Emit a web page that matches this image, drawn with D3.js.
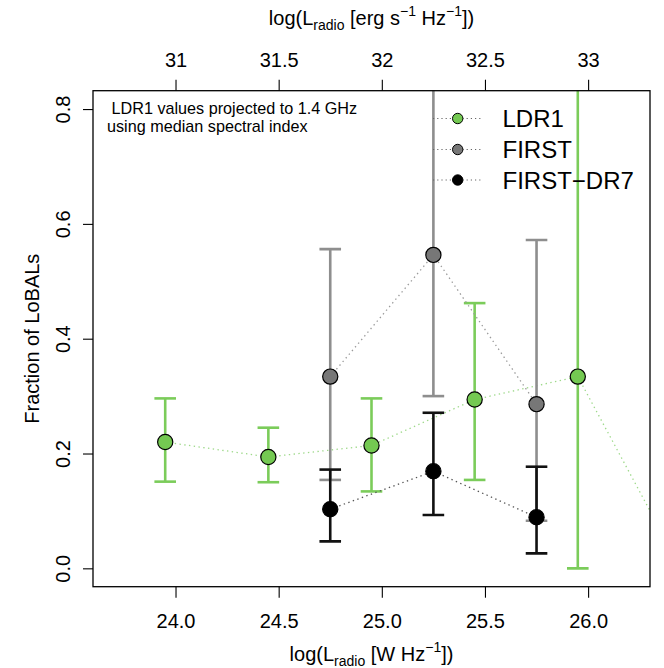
<!DOCTYPE html>
<html><head><meta charset="utf-8">
<script src="https://cdn.jsdelivr.net/npm/d3@7"></script>
<style>
html,body{margin:0;padding:0;background:#fff;}
svg{display:block;font-family:"Liberation Sans",Arial,Helvetica,sans-serif;}
</style></head>
<body>
<svg id="chart" width="664" height="668"></svg>
<script>
// ---- data ----
const ldrX  = [23.95, 24.45, 24.95, 25.45, 25.95, 26.45];
const ldrY  = [0.220, 0.194, 0.214, 0.294, 0.334, 0.000];
const ldrLo = [0.151, 0.150, 0.134, 0.154, 0.000, 0.000];
const ldrHi = [0.296, 0.245, 0.296, 0.462, 1.000, 0.000];

const firstX  = [24.75, 25.25, 25.75];
const firstY  = [0.334, 0.546, 0.286];
const firstLo = [0.154, 0.300, 0.083];
const firstHi = [0.556, 0.900, 0.572];

const dr7X  = [24.75, 25.25, 25.75];
const dr7Y  = [0.103, 0.169, 0.089];
const dr7Lo = [0.047, 0.093, 0.026];
const dr7Hi = [0.172, 0.271, 0.177];

const bottomTicks = [24.0, 24.5, 25.0, 25.5, 26.0];
const topTicks = [31, 31.5, 32, 32.5, 33];
const leftTicks = [0.0, 0.2, 0.4, 0.6, 0.8];
const seriesNames = ["LDR1", "FIRST", "FIRST\u2212DR7"];

// ---- layout ----
const L = 93, R = 650, T = 90.7, B = 586.7;
const svg = d3.select("#chart");
const x = d3.scaleLinear().domain([23.6, 26.3]).range([L, R]);
const xTop = d3.scaleLinear().domain([30.6, 33.3]).range([L, R]);
const y = d3.scaleLinear().domain([-0.032, 0.832]).range([B, T]);

const green = "#74C952", greenBar = "#7BCC5A", greenLine = "#9ED98A";
const gray = "#777777", grayBar = "#8E8E8E", grayLine = "#9A9A9A";
const black = "#000000", blackBar = "#111111", blackLine = "#555555";

const series = [
  {name: seriesNames[0], xs: ldrX, ys: ldrY, lo: ldrLo, hi: ldrHi, fill: green, bar: greenBar, line: greenLine},
  {name: seriesNames[1], xs: firstX, ys: firstY, lo: firstLo, hi: firstHi, fill: gray, bar: grayBar, line: grayLine},
  {name: seriesNames[2], xs: dr7X, ys: dr7Y, lo: dr7Lo, hi: dr7Hi, fill: black, bar: blackBar, line: blackLine}
];

svg.append("defs").append("clipPath").attr("id","plotclip")
  .append("rect").attr("x",L).attr("y",T).attr("width",R-L).attr("height",B-T);

const plot = svg.append("g").attr("clip-path","url(#plotclip)");
const capW = 10.8;

series.forEach(s => {
  const pts = s.xs.map((v,i)=>({x:v, y:s.ys[i], lo:s.lo[i], hi:s.hi[i]}));
  const g = plot.append("g");
  g.append("path").datum(pts)
    .attr("d", d3.line().x(d=>x(d.x)).y(d=>y(d.y)))
    .attr("fill","none").attr("stroke",s.line).attr("stroke-width",1.3)
    .attr("stroke-dasharray","1.4,3.4");
  const eb = g.selectAll(".eb").data(pts.filter(d=>d.hi>d.lo)).enter().append("g");
  eb.append("line").attr("x1",d=>x(d.x)).attr("x2",d=>x(d.x))
    .attr("y1",d=>y(d.lo)).attr("y2",d=>y(d.hi))
    .attr("stroke",s.bar).attr("stroke-width",2.6);
  eb.append("line").attr("x1",d=>x(d.x)-capW).attr("x2",d=>x(d.x)+capW)
    .attr("y1",d=>y(d.lo)).attr("y2",d=>y(d.lo))
    .attr("stroke",s.bar).attr("stroke-width",2.6);
  eb.append("line").attr("x1",d=>x(d.x)-capW).attr("x2",d=>x(d.x)+capW)
    .attr("y1",d=>y(d.hi)).attr("y2",d=>y(d.hi))
    .attr("stroke",s.bar).attr("stroke-width",2.6);
  g.selectAll("circle").data(pts).enter().append("circle")
    .attr("cx",d=>x(d.x)).attr("cy",d=>y(d.y)).attr("r",7.6)
    .attr("fill",s.fill).attr("stroke","#000").attr("stroke-width",1.2);
});

// ---- box ----
svg.append("rect").attr("x",L).attr("y",T).attr("width",R-L).attr("height",B-T)
  .attr("fill","none").attr("stroke","#000").attr("stroke-width",1.3);

// ---- axes ----
const fs = 20;
const axB = svg.append("g").attr("transform",`translate(0,${B})`)
  .call(d3.axisBottom(x).tickValues(bottomTicks).tickSize(11).tickPadding(5).tickFormat(d=>d.toFixed(1)));
const axT = svg.append("g").attr("transform",`translate(0,${T})`)
  .call(d3.axisTop(xTop).tickValues(topTicks).tickSize(11).tickPadding(12).tickFormat(d=>String(d)));
const axL = svg.append("g").attr("transform",`translate(${L},0)`)
  .call(d3.axisLeft(y).tickValues(leftTicks).tickSize(10).tickPadding(5).tickFormat(d=>d.toFixed(1)));
[axB, axT, axL].forEach(a=>{
  a.select(".domain").remove();
  a.selectAll(".tick line").attr("stroke","#000").attr("stroke-width",1.1);
  a.selectAll(".tick text").attr("font-size",fs).attr("fill","#000")
    .attr("font-family","Liberation Sans, Arial, sans-serif");
});
axB.selectAll(".tick text").attr("dy","0.71em").attr("y",27);
axT.selectAll(".tick text").attr("dy",0).attr("y",-24);
axL.selectAll(".tick text").attr("text-anchor","middle").attr("dy",0)
  .attr("x",0).attr("y",0)
  .attr("transform",function(d){return `translate(-23,0) rotate(-90)`;});

// axis titles with sub/superscripts
function title(g, parts){
  const t = g.append("text").attr("font-size",fs).attr("fill","#000").attr("text-anchor","middle");
  parts.forEach(p=>{
    const ts = t.append("tspan").text(p.t);
    if(p.sub){ ts.attr("font-size",fs*0.7).attr("dy",5); }
    else if(p.sup){ ts.attr("font-size",fs*0.7).attr("dy",-9); }
    if(p.back) ts.attr("dy",p.back);
  });
  return t;
}
title(svg.append("g").attr("transform",`translate(${(L+R)/2},661)`),
  [{t:"log(L"},{t:"radio",sub:true},{t:" [W Hz",back:-5},{t:"\u22121",sup:true},{t:"])",back:9}]);
title(svg.append("g").attr("transform",`translate(${(L+R)/2},24.5)`),
  [{t:"log(L"},{t:"radio",sub:true},{t:" [erg s",back:-5},{t:"\u22121",sup:true},{t:" Hz",back:9},{t:"\u22121",sup:true},{t:"])",back:9}]);
svg.append("text").attr("transform",`translate(39,${(T+B)/2}) rotate(-90)`)
  .attr("text-anchor","middle").attr("font-size",fs).attr("fill","#000")
  .text("Fraction of LoBALs");

// ---- annotation ----
const ann = svg.append("text").attr("font-size",16.2).attr("fill","#000");
ann.append("tspan").attr("x",107).attr("y",114).text("\u00a0LDR1 values projected to 1.4 GHz");
ann.append("tspan").attr("x",107).attr("y",131.5).text("using median spectral index");

// ---- legend ----
const lg = svg.append("g");
const legY = [118.5, 149.5, 180];
series.forEach((s,i)=>{
  lg.append("line").attr("x1",433).attr("x2",482).attr("y1",legY[i]).attr("y2",legY[i])
    .attr("stroke","#666").attr("stroke-width",1.1).attr("stroke-dasharray","1.2,3");
  lg.append("circle").attr("cx",457.7).attr("cy",legY[i]).attr("r",5.2)
    .attr("fill",s.fill).attr("stroke","#000").attr("stroke-width",1);
  lg.append("text").attr("x",502.5).attr("y",legY[i]+8.6).attr("font-size",24).attr("fill","#000").text(s.name);
});
</script>
</body></html>
